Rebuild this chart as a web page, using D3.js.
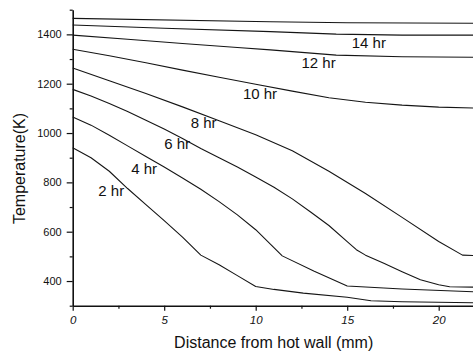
<!DOCTYPE html>
<html>
<head>
<meta charset="utf-8">
<script src="https://cdn.jsdelivr.net/npm/d3@7"></script>
<style>
	body { margin: 0; background: #fff; }
	svg { display: block; font-family: "Liberation Sans", Arial, sans-serif; }
	.curve { fill: none; stroke: #151515; stroke-width: 1.1; stroke-linejoin: round; }
	.axis .domain { stroke: #111; stroke-width: 1.6; }
	.axis line { stroke: #111; stroke-width: 1.2; }
	.axis text { fill: #111; }
</style>
</head>
<body>
<div id="chart"></div>
<script>
// temperature profiles, [distance mm, temperature K]
const hr2 = [[0, 940], [1, 900], [2, 845], [3, 775], [4, 710], [5, 645], [6, 578], [7, 505], [8, 466], [9, 422], [10, 378], [11, 366], [12.6, 351], [15, 334], [16.3, 320], [18, 316], [22, 312]];
const hr4 = [[0, 1065], [1, 1032], [2, 991], [3, 948], [4, 905], [5, 862], [6, 818], [7, 772], [8, 722], [9, 668], [10, 608], [11.45, 502], [13.2, 440], [15, 380], [16, 376], [18, 368], [22, 356]];
const hr6 = [[0, 1177], [1, 1150], [2, 1120], [3, 1087], [4, 1052], [5, 1016], [6, 978], [7, 937], [8, 900], [9, 862], [10, 822], [11, 780], [12, 733], [13, 680], [14, 625], [15, 560], [15.5, 527], [16, 505], [17, 472], [18, 438], [19, 405], [20, 385], [20.6, 377], [22, 375]];
const hr8 = [[0, 1264], [2, 1212], [4, 1160], [6, 1106], [8, 1050], [10, 993], [12, 928], [14, 845], [16, 755], [18, 658], [20, 560], [21.3, 505], [22, 503]];
const hr10 = [[0, 1340], [2, 1313], [4, 1285], [6, 1255], [8, 1226], [10, 1198], [12, 1170], [14, 1143], [16, 1125], [18, 1113], [20, 1105], [22, 1101]];
const hr12 = [[0, 1397], [3, 1380], [6, 1363], [9, 1347], [10.8, 1337], [14.4, 1316], [18, 1309], [22, 1307]];
const hr14 = [[0, 1438], [5, 1425], [10.8, 1411], [14.4, 1401], [18, 1397], [22, 1397]];
const hr16 = [[0, 1465], [10.8, 1451], [15, 1447], [22, 1445]];

const curves = [hr2, hr4, hr6, hr8, hr10, hr12, hr14, hr16];

// curve labels: text and where they sit (mm, K of the baseline start)
const labelText = ["2 hr", "4 hr", "6 hr", "8 hr", "10 hr", "12 hr", "14 hr"];
const labelX = [1.4, 3.2, 5.0, 6.45, 9.3, 12.5, 15.25];
const labelY = [745, 834, 934, 1019, 1137, 1262, 1346];

const xTicks = [0, 5, 10, 15, 20];
const xMinor = [2.5, 7.5, 12.5, 17.5];
const yTicks = [400, 600, 800, 1000, 1200, 1400];
const yMinor = [300, 500, 700, 900, 1100, 1300, 1500];

const width = 473;
const height = 353;
const margins = { left: 72.7, top: 9.7, bottom: 47.3 };

const svg = d3
	.select("#chart")
	.append("svg")
	.attr("width", width)
	.attr("height", height);

const x = d3
	.scaleLinear()
	.domain([0, 22])
	.range([margins.left, margins.left + 22 * 18.3]);

const y = d3
	.scaleLinear()
	.domain([300, 1500])
	.range([height - margins.bottom, margins.top]);

// curves
const line = d3
	.line()
	.x(([d]) => x(d))
	.y(([_, t]) => y(t));

svg
	.append("g")
	.selectAll("path")
	.data(curves)
	.join("path")
	.attr("class", "curve")
	.attr("d", line);

// labels
svg
	.append("g")
	.selectAll("text")
	.data(labelText)
	.join("text")
	.attr("x", (d, i) => x(labelX[i]))
	.attr("y", (d, i) => y(labelY[i]))
	.attr("font-size", 15)
	.attr("fill", "#111")
	.text((d) => d);

// y axis
const yBase = height - margins.bottom;
svg
	.append("g")
	.attr("class", "axis")
	.attr("transform", `translate(${margins.left},0)`)
	.call(d3.axisLeft(y).tickValues(yMinor).tickSize(3).tickFormat(""))
	.call((g) => g.select(".domain").remove());

svg
	.append("g")
	.attr("class", "axis")
	.attr("transform", `translate(${margins.left},0)`)
	.call(
		d3
			.axisLeft(y)
			.tickValues(yTicks)
			.tickFormat(d3.format("d"))
			.tickSize(6)
			.tickSizeOuter(0)
			.tickPadding(5),
	)
	.selectAll(".tick text")
	.attr("font-size", 11)
	.attr("font-family", "Liberation Sans, Arial, sans-serif");

// x axis
svg
	.append("g")
	.attr("class", "axis")
	.attr("transform", `translate(0,${yBase})`)
	.call(d3.axisBottom(x).tickValues(xMinor).tickSize(3).tickFormat(""))
	.call((g) => g.select(".domain").remove());

svg
	.append("g")
	.attr("class", "axis")
	.attr("transform", `translate(0,${yBase})`)
	.call(d3.axisBottom(x).tickValues(xTicks).tickSize(5).tickSizeOuter(0).tickPadding(5.5))
	.selectAll(".tick text")
	.attr("font-size", 11.5)
	.attr("font-style", "italic")
	.attr("font-family", "Liberation Sans, Arial, sans-serif");

// axis titles
svg
	.append("text")
	.attr("x", 273.7)
	.attr("y", 348)
	.attr("text-anchor", "middle")
	.attr("font-size", 16)
	.attr("fill", "#111")
	.text("Distance from hot wall (mm)");

svg
	.append("text")
	.attr("transform", "translate(24.5,168.5) rotate(-90)")
	.attr("text-anchor", "middle")
	.attr("font-size", 16)
	.attr("fill", "#111")
	.text("Temperature(K)");
</script>
</body>
</html>
